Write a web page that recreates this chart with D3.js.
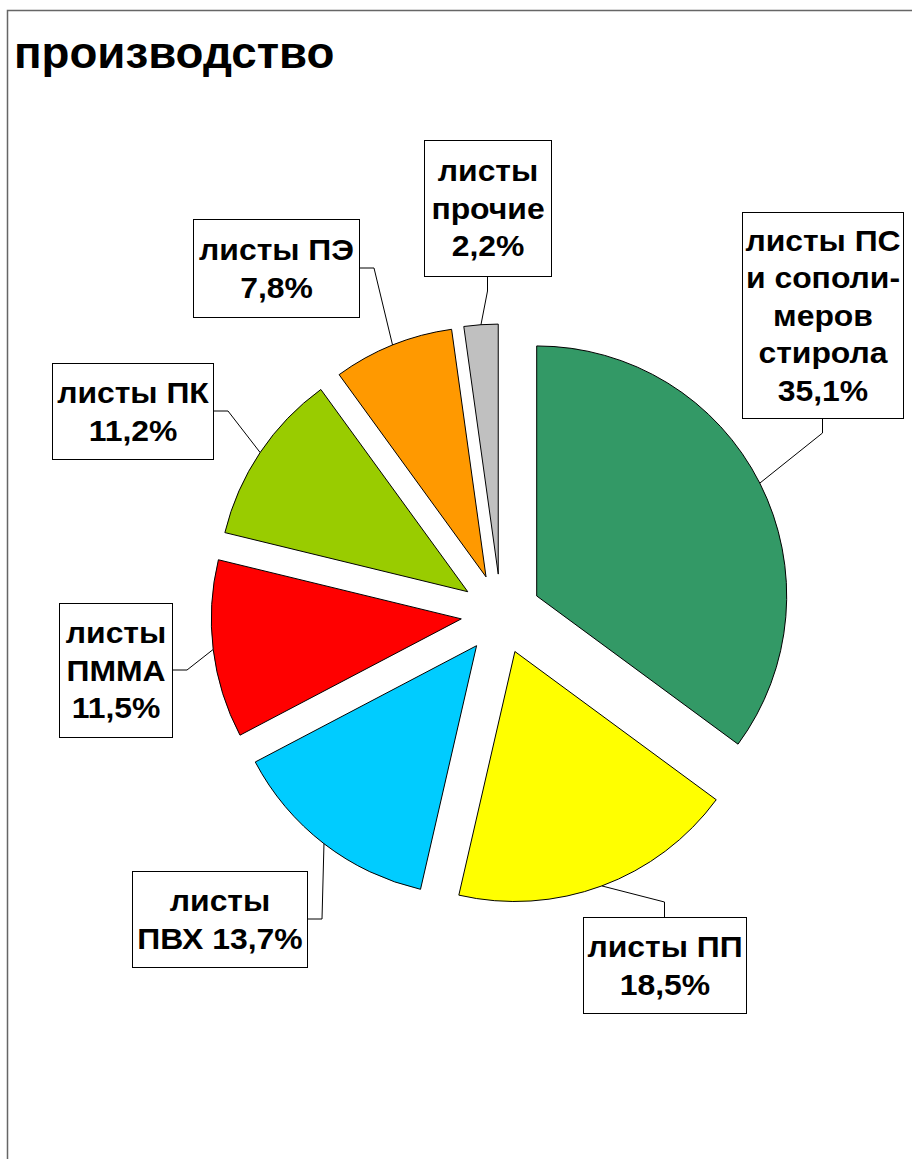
<!DOCTYPE html>
<html>
<head>
<meta charset="utf-8">
<script src="https://cdn.jsdelivr.net/npm/d3@7"></script>
<style>
  body { margin: 0; background: #fff; }
  svg { display: block; font-family: "Liberation Sans", Arial, sans-serif; }
</style>
</head>
<body>
<div id="chart"></div>
<script>
// data
const categories = ["листы ПС и сополимеров стирола", "листы ПП", "листы ПВХ", "листы ПММА", "листы ПК", "листы ПЭ", "листы прочие"];
const shares = [35.1, 18.5, 13.7, 11.5, 11.2, 7.8, 2.2];
const labelLines = [
    ["листы ПС", "и сополи-", "меров", "стирола", "35,1%"],
    ["листы ПП", "18,5%"],
    ["листы", "ПВХ 13,7%"],
    ["листы", "ПММА", "11,5%"],
    ["листы ПК", "11,2%"],
    ["листы ПЭ", "7,8%"],
    ["листы", "прочие", "2,2%"]
];
const colors = ["#339966", "#ffff00", "#00ccff", "#ff0000", "#99cc00", "#ff9900", "#c0c0c0"];
const title = "производство";

// layout of label boxes (x, y, w, h) and where the leader leaves the box
const boxes = [
    { x: 742, y: 212, w: 161, h: 206, side: "bottom" },
    { x: 583, y: 917, w: 163, h: 96, side: "top" },
    { x: 132, y: 871, w: 175, h: 96, side: "right" },
    { x: 59, y: 603, w: 113, h: 134, side: "right" },
    { x: 52, y: 363, w: 161, h: 96, side: "right" },
    { x: 193, y: 219, w: 166, h: 98, side: "right" },
    { x: 424, y: 140, w: 127, h: 136, side: "bottom" }
];

const width = 912, height = 1159;
const cx = 501, cy = 614, radius = 250, explode = 40;
const lineH = 37.5, elbow = 15;
const stretch = 1.1; // reference text is a little wider than Liberation Sans

const svg = d3.select("#chart").append("svg")
    .attr("width", width)
    .attr("height", height);

// frame (only top and left edges are visible in the crop)
svg.append("path")
    .attr("d", `M7.5,${height} V10.5 H${width}`)
    .attr("fill", "none")
    .attr("stroke", "#666")
    .attr("stroke-width", 1.5);

svg.append("text")
    .attr("transform", "translate(14,68) scale(1.015,1)")
    .attr("font-size", 45)
    .attr("font-weight", "bold")
    .attr("fill", "#000")
    .text(title);

const pie = d3.pie().sort(null).value(d => d);
const arcs = pie(shares);
const arc = d3.arc().innerRadius(0).outerRadius(radius);

// offset of each exploded slice along its mid angle
const shift = a => {
    const m = (a.startAngle + a.endAngle) / 2;
    return [Math.sin(m) * explode, -Math.cos(m) * explode];
};

const g = svg.append("g").attr("transform", `translate(${cx},${cy})`);

g.selectAll(".slice")
    .data(arcs)
    .join("path")
    .attr("class", "slice")
    .attr("transform", d => `translate(${shift(d)})`)
    .attr("d", arc)
    .attr("fill", (d, i) => colors[i])
    .attr("stroke", "#000")
    .attr("stroke-width", 1);

// leader lines: box edge -> short elbow -> slice rim at mid angle
const leader = (d, i) => {
    const b = boxes[i];
    const [dx, dy] = shift(d);
    const m = (d.startAngle + d.endAngle) / 2;
    const ex = cx + dx + Math.sin(m) * radius;
    const ey = cy + dy - Math.cos(m) * radius;
    let p0, p1;
    if (b.side === "right") {
        p0 = [b.x + b.w, b.y + b.h / 2];
        p1 = [p0[0] + elbow, p0[1]];
    } else if (b.side === "bottom") {
        p0 = [b.x + b.w / 2, b.y + b.h];
        p1 = [p0[0], p0[1] + elbow];
    } else {
        p0 = [b.x + b.w / 2, b.y];
        p1 = [p0[0], p0[1] - elbow];
    }
    return d3.line()([p0, p1, [ex, ey]]);
};

svg.append("g").selectAll("path")
    .data(arcs)
    .join("path")
    .attr("d", leader)
    .attr("fill", "none")
    .attr("stroke", "#000")
    .attr("stroke-width", 1);

const labels = svg.append("g").selectAll("g")
    .data(boxes)
    .join("g");

labels.append("rect")
    .attr("x", b => b.x + 0.5)
    .attr("y", b => b.y + 0.5)
    .attr("width", b => b.w)
    .attr("height", b => b.h)
    .attr("fill", "#fff")
    .attr("stroke", "#000")
    .attr("stroke-width", 1);

labels.each(function(b, i) {
    const lines = labelLines[i];
    const midY = b.y + b.h / 2;
    d3.select(this).append("g")
        .attr("transform", `translate(${b.x + b.w / 2 + 0.5},0) scale(${stretch},1)`)
        .selectAll("text")
        .data(lines)
        .join("text")
        .attr("x", 0)
        .attr("y", (t, j) => midY + (j - (lines.length - 1) / 2) * lineH + 11)
        .attr("text-anchor", "middle")
        .attr("font-size", 29)
        .attr("font-weight", "bold")
        .attr("fill", "#000")
        .text(t => t);
});
</script>
</body>
</html>
